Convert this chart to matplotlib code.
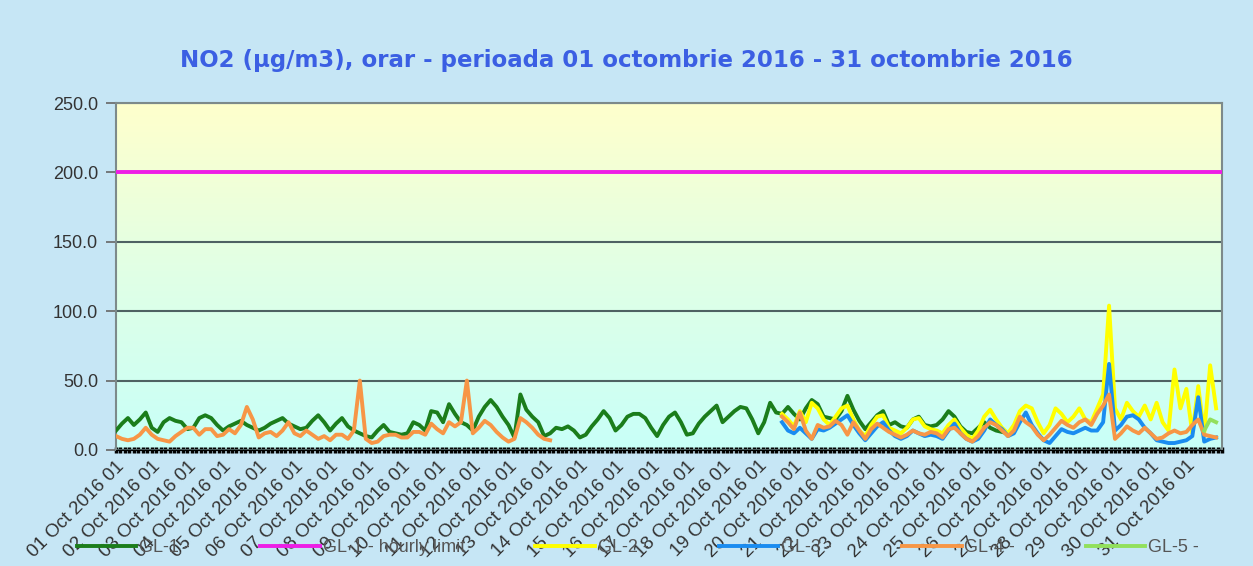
import numpy as np
import matplotlib.pyplot as plt
from matplotlib.colors import LinearSegmentedColormap

# hourly NO2 values every 4 hours (hour index from 01 Oct 00h)
STEP = 4

gl1_start = 0
gl1 = [14, 19, 23, 18, 22, 27, 16, 13, 20, 23, 21, 20, 15, 16, 23, 25, 23, 18,
       14, 17, 19, 21, 18, 16, 14, 16, 19, 21, 23, 19, 17, 15, 16, 21, 25, 20,
       14, 19, 23, 17, 14, 12, 10, 9, 14, 18, 13, 12, 11, 12, 20, 18, 14, 28,
       27, 20, 33, 26, 20, 18, 14, 24, 31, 36, 31, 24, 18, 9, 40, 29, 24, 20,
       10, 12, 16, 15, 17, 14, 9, 11, 17, 22, 28, 23, 14, 18, 24, 26, 26, 23,
       16, 10, 18, 24, 27, 20, 11, 12, 19, 24, 28, 32, 20, 24, 28, 31, 30, 22,
       12, 20, 34, 27, 26, 31, 26, 22, 30, 36, 33, 24, 23, 22, 28, 39, 29, 21,
       15, 20, 25, 28, 18, 20, 17, 16, 22, 24, 18, 17, 18, 22, 28, 24, 17, 13,
       12, 16, 20, 16, 14, 13, 12]

gl4_a_start = 0
gl4_a = [10, 8, 7, 8, 11, 16, 11, 8, 7, 6, 10, 13, 16, 16, 11, 15, 15, 10,
         11, 15, 12, 18, 31, 22, 9, 12, 13, 10, 14, 20, 12, 10, 14, 11, 8, 10,
         7, 11, 11, 8, 14, 50, 8, 5, 6, 10, 11, 11, 9, 9, 13, 13, 11, 19,
         15, 12, 20, 17, 20, 50, 12, 16, 21, 18, 13, 9, 6, 8, 23, 20, 16, 11,
         8, 7]

late_start = 448
gl2 = [26, 22, 17, 28, 20, 34, 30, 22, 18, 24, 30, 32, 22, 14, 10, 18, 24, 25,
       16, 14, 12, 16, 22, 23, 17, 15, 14, 12, 18, 22, 16, 11, 8, 14, 24, 29,
       22, 16, 12, 18, 28, 32, 30, 20, 12, 18, 30, 26, 20, 24, 30, 22, 20, 30,
       40, 104, 30, 22, 34, 28, 24, 32, 22, 34, 20, 14, 58, 30, 44, 12, 46, 12,
       61, 30]
gl3 = [20, 14, 12, 16, 12, 8, 15, 14, 16, 19, 22, 25, 18, 12, 7, 12, 17, 20,
       14, 10, 8, 10, 14, 12, 10, 11, 10, 8, 14, 19, 12, 8, 6, 8, 14, 22,
       18, 15, 10, 12, 20, 27, 18, 12, 7, 5, 10, 15, 13, 12, 14, 16, 14, 14,
       20, 62, 14, 18, 24, 25, 22, 16, 12, 7, 6, 5, 5, 6, 7, 10, 38, 6,
       8, 9]
gl4_b = [24, 20, 15, 27, 14, 8, 18, 16, 17, 21, 18, 11, 20, 14, 8, 15, 19, 16,
         13, 11, 9, 11, 14, 12, 11, 13, 12, 9, 15, 16, 12, 8, 6, 10, 16, 20,
         18, 14, 10, 14, 24, 20, 17, 11, 7, 11, 16, 21, 18, 16, 20, 22, 18, 26,
         32, 40, 8, 12, 17, 14, 12, 16, 12, 8, 9, 12, 14, 12, 13, 18, 22, 11,
         10, 9]

gl5_start = 732
gl5 = [14, 22, 20]

hourly_limit = 200
day_labels = [f"{d:02d} Oct 2016 01" for d in range(1, 32)]
y_ticks = [0, 50, 100, 150, 200, 250]


def hours(start, vals):
    return start + STEP * np.arange(len(vals))


fig = plt.figure(figsize=(12.53, 5.66), dpi=100, facecolor='#c6e6f5')
ax = fig.add_axes([0.0926, 0.205, 0.8827, 0.613])

# yellow-to-cyan plot background
cmap = LinearSegmentedColormap.from_list('bg', ['#c8fff8', '#e0ffe6', '#ffffcc'])
ax.imshow(np.linspace(0, 1, 256).reshape(-1, 1), cmap=cmap, origin='lower',
          extent=(0, 1, 0, 1), transform=ax.transAxes, aspect='auto', zorder=0)

lw = 2.8
ax.plot(hours(gl1_start, gl1), gl1, color='#1b7d1b', lw=lw, label='GL-1 -', zorder=3)
ax.axhline(hourly_limit, color='#ee1ee6', lw=lw, label='GL-1 - hourly limit', zorder=3)
ax.plot(hours(late_start, gl2), gl2, color='#ffff00', lw=lw, label='GL-2 -', zorder=3)
ax.plot(hours(late_start, gl3), gl3, color='#1a8cf0', lw=lw, label='GL-3 -', zorder=3)
ax.plot(hours(gl4_a_start, gl4_a), gl4_a, color='#f79646', lw=lw, label='GL-4 -', zorder=3)
ax.plot(hours(late_start, gl4_b), gl4_b, color='#f79646', lw=lw, zorder=3)
ax.plot(hours(gl5_start, gl5), gl5, color='#92e05c', lw=lw, label='GL-5 -', zorder=3)

ax.set_xlim(0, 744)
ax.set_ylim(0, 250)
ax.set_yticks(y_ticks)
ax.set_yticklabels([f"{v:.1f}" for v in y_ticks])
ax.yaxis.grid(True, color='#4f6262', lw=1.5)
ax.set_axisbelow(True)

ax.set_xticks(np.arange(31) * 24)
ax.set_xticklabels(day_labels, rotation=45, ha='right', va='top',
                   rotation_mode='anchor', fontsize=13.5, color='#333333',
                   family='Liberation Sans')
ax.set_xticks(np.arange(0, 745, 3), minor=True)
ax.tick_params(axis='x', which='both', direction='inout', length=5, width=2.5,
               color='black', pad=3)
ax.tick_params(axis='y', labelsize=13, colors='#333333', length=7, width=1.2,
               pad=6)
for lab in ax.get_yticklabels():
    lab.set_family('Liberation Sans')
ax.tick_params(axis='y', color='#666666')

for side in ['left', 'right', 'top']:
    ax.spines[side].set_color('#7d8a8a')
    ax.spines[side].set_linewidth(1.5)
ax.spines['bottom'].set_color('black')

fig.text(0.5, 0.893, 'NO2 (µg/m3), orar - perioada 01 octombrie 2016 - 31 octombrie 2016',
         ha='center', va='center', fontsize=16.5, fontweight='bold', color='#3b5fe3')

handles, labels = ax.get_legend_handles_labels()
fig.legend(handles, labels, loc='center', bbox_to_anchor=(0.509, 0.032), ncol=6,
           frameon=False, handlelength=3.3, handletextpad=0.15, columnspacing=3.9,
           prop={'family': 'Liberation Sans', 'size': 13}, labelcolor='#555555')

fig.savefig('out.png', dpi=100, facecolor=fig.get_facecolor())
